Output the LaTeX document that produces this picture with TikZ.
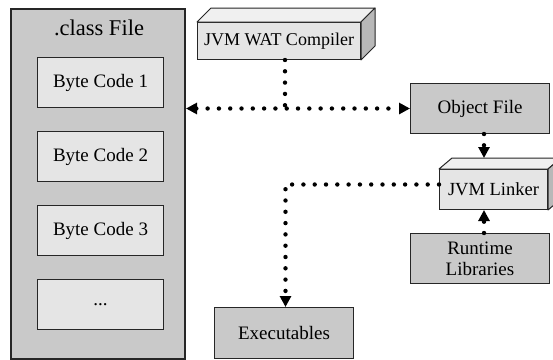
\documentclass[tikz,border=0pt]{standalone}
\usepackage{fontspec}
\setmainfont{Liberation Serif}
\usetikzlibrary{arrows.meta}
\definecolor{boxgray}{gray}{0.79}
\definecolor{boxlight}{gray}{0.9}
\definecolor{facetop}{gray}{0.94}
\definecolor{faceside}{gray}{0.72}
\definecolor{edge}{gray}{0.15}
\tikzset{
  body/.style={font=\fontsize{19}{22}\selectfont},
  block/.style={draw=edge, line width=1pt, fill=boxgray, inner sep=0pt,
                body, align=center, anchor=north west},
  lightblock/.style={block, fill=boxlight},
  face/.style={draw=edge, line width=1pt, line join=round},
  dots/.style={line width=4.4pt, line cap=round, dash pattern=on 0pt off 11.3pt, draw=black},
  tip/.style={-{Triangle[length=11pt,width=11pt]}},
  tips/.style={{Triangle[length=11pt,width=11pt]}-{Triangle[length=11pt,width=11pt]}}
}
\begin{document}
\begin{tikzpicture}[x=1pt,y=-1pt]
\useasboundingbox (0,0) rectangle (553,359);

% the class file and its byte code sections
\node[block, line width=2pt, minimum width=174pt, minimum height=350pt] (cls) at (10,7.5) {};
\node[font=\fontsize{22.5}{25}\selectfont] (clstitle) at (99,28) {.class File};
\node[lightblock, minimum width=126pt, minimum height=50pt] (bc1) at (37,57) {Byte Code 1};
\node[lightblock, minimum width=126pt, minimum height=50pt] (bc2) at (37,131) {Byte Code 2};
\node[lightblock, minimum width=126pt, minimum height=50pt] (bc3) at (37,205) {Byte Code 3};
\node[lightblock, minimum width=126pt, minimum height=50pt] (bcx) at (37,279) {...};

% compiler drawn as a box with depth
\node[lightblock, font=\fontsize{18}{21}\selectfont, minimum width=163pt, minimum height=37pt] (comp) at (197,22) {JVM WAT Compiler};
\filldraw[face, fill=facetop] (comp.north west) -- ([shift={(14,-14)}]comp.north west)
  -- ([shift={(14,-14)}]comp.north east) -- (comp.north east) -- cycle;
\filldraw[face, fill=faceside] (comp.north east) -- ([shift={(14,-14)}]comp.north east)
  -- ([shift={(14,-14)}]comp.south east) -- (comp.south east) -- cycle;

\node[block, minimum width=139pt, minimum height=50pt] (obj) at (410,83) {Object File};

% linker drawn as a box with depth
\node[lightblock, font=\fontsize{18.5}{21}\selectfont, minimum width=108pt, minimum height=40pt] (link) at (439,169) {JVM Linker};
\filldraw[face, fill=facetop] (link.north west) -- ([shift={(13,-11)}]link.north west)
  -- ([shift={(13,-11)}]link.north east) -- (link.north east) -- cycle;
\filldraw[face, fill=faceside] (link.north east) -- ([shift={(13,-11)}]link.north east)
  -- ([shift={(13,-11)}]link.south east) -- (link.south east) -- cycle;
\coordinate (linktop) at ([shift={(6,-11)}]link.north);

\node[block, minimum width=139pt, minimum height=50pt] (rt) at (410,233) {Runtime\\[-1pt]Libraries};
\node[block, minimum width=139pt, minimum height=51pt] (exe) at (214,307) {Executables};

% dotted connectors
\draw[dots, tips] (cls.east |- obj.west) -- (obj.west);
\draw[dots] (comp.south -| 285,0) -- (285,108);
\draw[dots, tip] (obj.south -| 484,0) -- (linktop -| 484,0);
\draw[dots, tip] (rt.north -| 484,0) -- (link.south -| 484,0);
\draw[dots, tip] ([yshift=5pt]link.west) -| ([xshift=1.5pt]exe.north);
\end{tikzpicture}
\end{document}
